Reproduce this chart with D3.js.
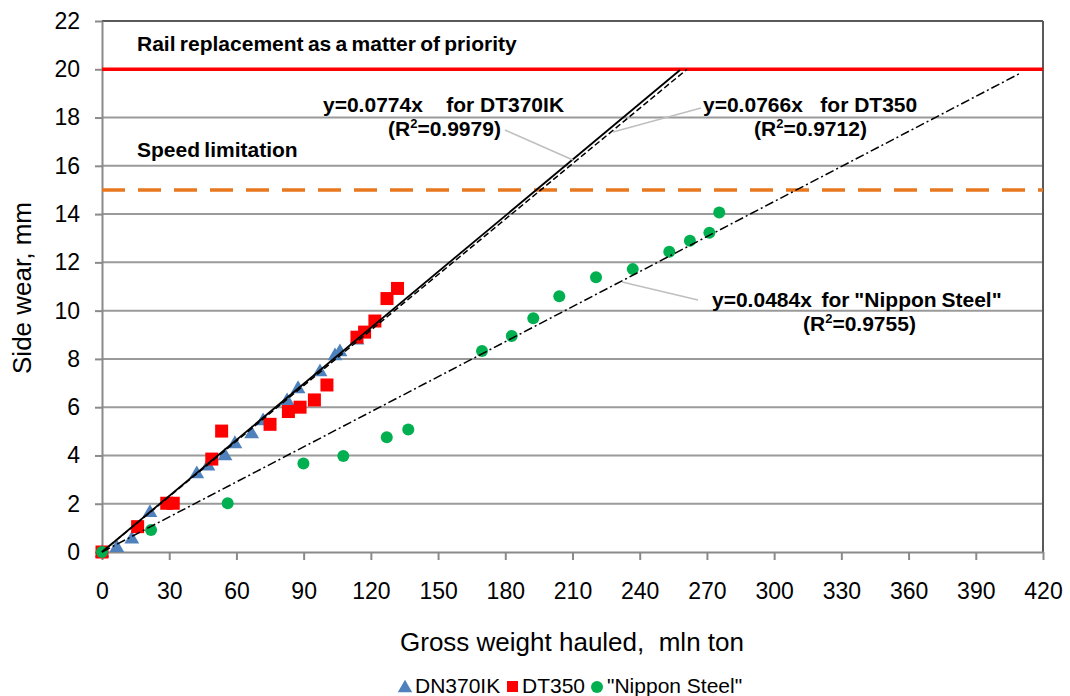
<!DOCTYPE html>
<html><head><meta charset="utf-8">
<script src="https://cdn.jsdelivr.net/npm/d3@7/dist/d3.min.js"></script>
<style>
html,body{margin:0;padding:0;background:#fff;}
text{font-family:"Liberation Sans",Arial,sans-serif;}
</style></head>
<body><svg id="c" width="1070" height="696"></svg>
<script>
// ---- data ----
const xTicks = [0,30,60,90,120,150,180,210,240,270,300,330,360,390,420];
const yTicks = [0,2,4,6,8,10,12,14,16,18,20,22];
const dn370X = [0,6.6,13.3,21.4,42.3,47.3,54.9,59.3,66.8,71.9,82.6,87.5,97.3,104,106.2,113.8];
const dn370Y = [0,0.22,0.57,1.67,3.27,3.6,4.02,4.52,4.93,5.47,6.3,6.8,7.5,8.16,8.33,8.82];
const dt350X = [0,15.9,28.9,31.8,49,53.4,75,83.2,88.4,94.8,100.4,113.8,117.2,121.8,127.2,131.9];
const dt350Y = [0,1.05,2.02,2.02,3.85,5.01,5.29,5.82,6.0,6.3,6.92,8.9,9.11,9.57,10.5,10.92];
const nipX = [0,21.9,56.1,89.9,107.7,127.1,136.7,169.6,182.9,192.5,204.1,220.5,236.9,253.2,262.4,271.1,275.5];
const nipY = [0,0.91,2.02,3.67,3.98,4.75,5.08,8.33,8.95,9.68,10.6,11.38,11.72,12.44,12.9,13.23,14.07];
const slopes = {dn370: 0.0774, dt350: 0.0766, nip: 0.0484};
const trendEndX = {dn370: 258, dt350: 261, nip: 410};
const limitReplace = 20, limitSpeed = 15;
const seriesNames = ['DN370IK','DT350','"Nippon Steel"'];

// ---- chart ----
const svg = d3.select('#c');
const x = d3.scaleLinear().domain([0,420]).range([102,1043]);
const y = d3.scaleLinear().domain([0,22]).range([552,21]);

// grid
svg.append('g').selectAll('line').data(yTicks.filter(v=>v>0 && v<22)).join('line')
  .attr('x1',x(0)).attr('x2',x(420)).attr('y1',d=>y(d)).attr('y2',d=>y(d))
  .attr('stroke','#9a9a9a').attr('stroke-width',2);
// frame top/right
svg.append('line').attr('x1',x(0)).attr('x2',x(420)).attr('y1',y(22)).attr('y2',y(22)).attr('stroke','#595959').attr('stroke-width',2);
svg.append('line').attr('x1',x(420)).attr('x2',x(420)).attr('y1',y(22)).attr('y2',y(0)).attr('stroke','#595959').attr('stroke-width',2);

// axes
const ax = svg.append('g').attr('transform',`translate(0,${y(0)})`)
  .call(d3.axisBottom(x).tickValues(xTicks).tickSize(8).tickPadding(23).tickSizeOuter(0));
const ay = svg.append('g').attr('transform',`translate(${x(0)},0)`)
  .call(d3.axisLeft(y).tickValues(yTicks).tickSize(7).tickPadding(15).tickSizeOuter(0));
[ax,ay].forEach(g=>{
  g.select('.domain').attr('stroke','#8a8a8a').attr('stroke-width',2);
  g.selectAll('.tick line').attr('stroke','#8a8a8a').attr('stroke-width',2);
  g.selectAll('.tick text').attr('font-size',23).attr('fill','#000')
   .style('font-family','"Liberation Sans",Arial,sans-serif');
});

// limit lines
svg.append('line').attr('x1',x(0)).attr('x2',x(420)).attr('y1',y(limitReplace)).attr('y2',y(limitReplace))
  .attr('stroke','#ff0000').attr('stroke-width',3.5);
svg.append('line').attr('x1',x(0)).attr('x2',x(420)).attr('y1',y(limitSpeed)).attr('y2',y(limitSpeed))
  .attr('stroke','#e8771e').attr('stroke-width',3.5).attr('stroke-dasharray','23,13');

// markers
const tri = d3.symbol().type(d3.symbolTriangle).size(95);
svg.append('g').selectAll('path').data(dn370X.map((v,i)=>[v,dn370Y[i]])).join('path')
  .attr('d',tri).attr('transform',d=>`translate(${x(d[0])},${y(d[1])+1})`).attr('fill','#4f81bd');
svg.append('g').selectAll('rect').data(dt350X.map((v,i)=>[v,dt350Y[i]])).join('rect')
  .attr('x',d=>x(d[0])-6.5).attr('y',d=>y(d[1])-6.5).attr('width',13).attr('height',13).attr('fill','#ff0000');
svg.append('g').selectAll('circle').data(nipX.map((v,i)=>[v,nipY[i]])).join('circle')
  .attr('cx',d=>x(d[0])).attr('cy',d=>y(d[1])).attr('r',6).attr('fill','#00b050');

// trend lines
const line = d3.line().x(d=>x(d[0])).y(d=>y(d[1]));
function trend(k,xe,dash,w){
  svg.append('path').attr('d',line([[0,0],[xe,k*xe]])).attr('fill','none')
    .attr('stroke','#000').attr('stroke-width',w).attr('stroke-dasharray',dash);
}
trend(slopes.dn370,trendEndX.dn370,null,1.8);
trend(slopes.dt350,trendEndX.dt350,'6,3',1.5);
trend(slopes.nip,trendEndX.nip,'9,3,2,3',1.5);

// leader lines
const lead = [[[505,130],[573,160]],[[701,108],[613,132]],[[698,300],[622,282]]];
svg.append('g').selectAll('line').data(lead).join('line')
  .attr('x1',d=>d[0][0]).attr('y1',d=>d[0][1]).attr('x2',d=>d[1][0]).attr('y2',d=>d[1][1])
  .attr('stroke','#bfbfbf').attr('stroke-width',1.5);

// annotations
function ann(tx,ty,str){
  return svg.append('text').attr('x',tx).attr('y',ty).attr('font-size',21).attr('font-weight','bold')
    .style('white-space','pre').attr('xml:space','preserve').text(str);
}
function r2(tx,ty,val){
  const t = svg.append('text').attr('x',tx).attr('y',ty).attr('font-size',21).attr('font-weight','bold');
  t.append('tspan').text('(R');
  t.append('tspan').attr('font-size',13).attr('dy',-8).text('2');
  t.append('tspan').attr('dy',8).text('='+val+')');
}
ann(137,51,'Rail replacement as a matter of priority').attr('word-spacing',-1.5);
ann(137,157,'Speed limitation').attr('word-spacing',-1.5);
ann(323,112,'y=0.0774x    for DT370IK');
r2(388,136,'0.9979');
ann(703,112,'y=0.0766x   for DT350');
r2(754,136,'0.9712');
ann(712,307,'y=0.0484x  for "Nippon Steel"').attr('word-spacing',-1);
r2(803,331,'0.9755');

// axis titles
svg.append('text').attr('x',572).attr('y',651).attr('text-anchor','middle').attr('font-size',26)
  .style('white-space','pre').text('Gross weight hauled,  mln ton');
svg.append('text').attr('transform','translate(31,288) rotate(-90)').attr('text-anchor','middle')
  .attr('font-size',26).text('Side wear, mm');

// legend
const lg = svg.append('g');
lg.append('path').attr('d',d3.symbol().type(d3.symbolTriangle).size(90)).attr('transform','translate(405,688)').attr('fill','#4f81bd');
lg.append('text').attr('x',415).attr('y',693).attr('font-size',21).text(seriesNames[0]);
lg.append('rect').attr('x',507).attr('y',681).attr('width',11).attr('height',11).attr('fill','#ff0000');
lg.append('text').attr('x',522).attr('y',693).attr('font-size',21).text(seriesNames[1]);
lg.append('circle').attr('cx',597).attr('cy',687).attr('r',6).attr('fill','#00b050');
lg.append('text').attr('x',607).attr('y',693).attr('font-size',21).text(seriesNames[2]);
</script></body></html>
